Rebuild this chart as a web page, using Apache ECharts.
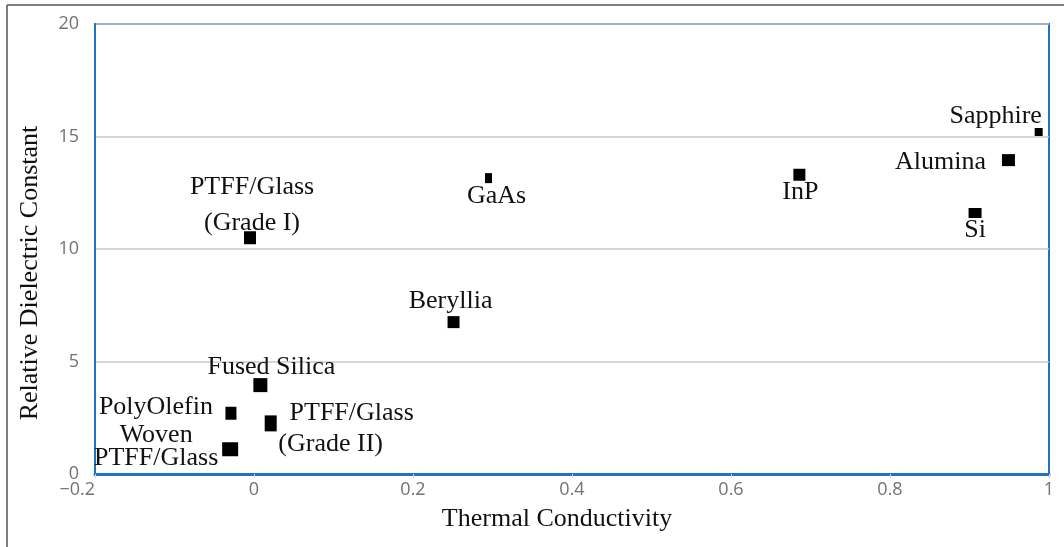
<!DOCTYPE html>
<html>
<head>
<meta charset="utf-8">
<style>
  html, body { margin: 0; padding: 0; background: #fff; }
  #chart { width: 1064px; height: 547px; }
</style>
<script src="https://cdn.jsdelivr.net/npm/echarts@6/dist/echarts.min.js"></script>
</head>
<body>
<div id="chart"></div>
<script>
  // materials, thermal conductivity (x) vs relative dielectric constant (y)
  const materials = ['Sapphire', 'Alumina', 'InP', 'Si', 'GaAs', 'PTFF/Glass\n(Grade I)', 'Beryllia',
    'Fused Silica', 'PolyOlefin', 'PTFF/Glass\n(Grade II)', 'Woven\nPTFF/Glass'];
  const conductivity = [0.987, 0.949, 0.686, 0.907, 0.295, -0.005, 0.251, 0.008, -0.029, 0.021, -0.030];
  const dielectric = [15.2, 13.95, 13.3, 11.6, 13.15, 10.5, 6.75, 3.95, 2.7, 2.25, 1.1];

  const xTicks = { min: -0.2, max: 1, step: 0.2 };
  const yTicks = { min: 0, max: 20, step: 5 };

  // per-point marker size and label placement (offset of label centre from marker centre)
  const look = {
    'Sapphire': { size: 8, off: [-43, -16] },
    'Alumina': { size: [13, 12], off: [-68, 2] },
    'InP': { size: 12, off: [1, 17] },
    'Si': { size: [13, 10], off: [0, 17] },
    'GaAs': { size: [7, 10], off: [8, 18] },
    'PTFF/Glass\n(Grade I)': { size: [12, 13], off: [2, -33], lh: 36 },
    'Beryllia': { size: 12, off: [-3, -21] },
    'Fused Silica': { size: 14, off: [11, -18] },
    'PolyOlefin': { size: [11, 13], off: [-75, -6] },
    'PTFF/Glass\n(Grade II)': { size: [12, 16], off: [70, 5], lh: 31, rich: true },
    'Woven\nPTFF/Glass': { size: [16, 14], off: [-74, -3], lh: 23 },
  };

  const serif = '"Liberation Serif", "DejaVu Serif", serif';
  const sans = '"Open Sans", "Noto Sans", sans-serif';
  const ink = '#111';

  const points = materials.map((name, i) => {
    const lk = look[name];
    const label = {
      show: true,
      position: 'inside',
      offset: lk.off,
      align: 'center',
      verticalAlign: 'middle',
      formatter: name,
      fontFamily: serif,
      fontSize: 26,
      color: ink,
      lineHeight: lk.lh || 30,
    };
    if (lk.rich) {
      const parts = name.split('\n');
      label.formatter = '{a|' + parts[0] + '}\n{b|' + parts[1] + '}';
      label.rich = {
        a: { fontFamily: serif, fontSize: 26, color: ink, lineHeight: lk.lh, padding: [0, 0, 0, 22] },
        b: { fontFamily: serif, fontSize: 26, color: ink, lineHeight: lk.lh, padding: [0, 20, 0, 0] },
      };
    }
    return {
      name: name,
      value: [conductivity[i], dielectric[i]],
      symbolSize: lk.size,
      label: label,
    };
  });

  const chart = echarts.init(document.getElementById('chart'));
  chart.setOption({
    animation: false,
    grid: {
      left: 95, right: 15, top: 24, bottom: 73,
      show: true, borderColor: '#1f72c4', borderWidth: 2,
    },
    xAxis: {
      type: 'value',
      min: xTicks.min, max: xTicks.max, interval: xTicks.step,
      name: 'Thermal Conductivity',
      nameLocation: 'middle',
      nameGap: 32,
      nameTextStyle: { fontFamily: serif, fontSize: 26, color: ink, padding: [0, 30, 0, 0] },
      axisLine: { show: true, onZero: false, lineStyle: { color: '#1f72c4', width: 3 } },
      axisTick: { show: true, length: 4, lineStyle: { color: '#c8d4e0' } },
      splitLine: { show: false },
      axisLabel: {
        color: '#727272', fontFamily: sans, fontSize: 18, margin: 7,
        alignMinLabel: 'right',
        formatter: v => (v < 0 ? '\u2212' + Math.abs(v) : String(+v.toFixed(1))),
      },
    },
    yAxis: {
      type: 'value',
      min: yTicks.min, max: yTicks.max, interval: yTicks.step,
      name: 'Relative Dielectric Constant',
      nameLocation: 'middle',
      nameGap: 52,
      nameTextStyle: { fontFamily: serif, fontSize: 26, color: ink, padding: [0, 48, 0, 0] },
      axisLine: { show: true, onZero: false, lineStyle: { color: '#1f72c4', width: 2 } },
      axisTick: { show: false },
      splitLine: { show: true, lineStyle: { color: '#c8c8c8', width: 1.5 } },
      axisLabel: { color: '#727272', fontFamily: sans, fontSize: 18, margin: 16 },
    },
    graphic: [
      { type: 'line', shape: { x1: 7, y1: 5, x2: 7, y2: 547 }, style: { stroke: '#555', lineWidth: 1.5 } },
      { type: 'line', shape: { x1: 7, y1: 5, x2: 1064, y2: 5 }, style: { stroke: '#555', lineWidth: 1.5 } },
    ],
    series: [{
      type: 'scatter',
      symbol: 'rect',
      itemStyle: { color: '#000', opacity: 1 },
      data: points,
    }],
  });
  window.addEventListener('resize', () => chart.resize());
</script>
</body>
</html>
